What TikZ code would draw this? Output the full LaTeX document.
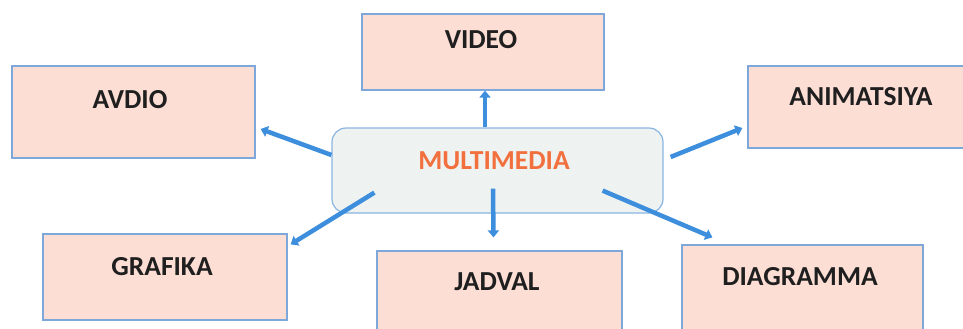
\documentclass[tikz,border=0pt]{standalone}
\usepackage{fontspec}
\setmainfont{Carlito}
\usepackage{tikz}
\usetikzlibrary{arrows.meta,calc}

\definecolor{boxfill}{HTML}{FDDED5}
\definecolor{boxline}{HTML}{7EA8DA}
\definecolor{hubfill}{HTML}{EEF2F1}
\definecolor{hubline}{HTML}{88B6E2}
\definecolor{arrowblue}{HTML}{3D8EDC}
\definecolor{hubtext}{HTML}{F2703D}

\begin{document}
\begin{tikzpicture}[x=1pt,y=1pt,yscale=-1,xscale=1,
  item/.style={draw=boxline,fill=boxfill,line width=1.2pt,inner sep=0pt},
  hub/.style={draw=hubline,fill=hubfill,line width=1.2pt,rounded corners=14pt,inner sep=0pt},
  lbl/.style={font=\fontsize{27.5}{32}\selectfont\bfseries,text=black!88,inner sep=0.75pt},
  link/.style={draw=arrowblue,line width=4.5pt,-{Triangle[length=7pt,width=11pt]}}]
%set diagram size to 963 x 329
\useasboundingbox (0,0) rectangle (963,329);

%Shape: Rectangle
\node [item,minimum width=242pt,minimum height=76pt] (video) at (483,52) {};
%Shape: Rectangle
\node [item,minimum width=243pt,minimum height=92pt] (avdio) at (133.5,112) {};
%Shape: Rectangle
\node [item,minimum width=224pt,minimum height=82pt] (anim) at (860,107) {};
%Shape: Rectangle
\node [item,minimum width=244pt,minimum height=86pt] (grafika) at (165,277) {};
%Shape: Rectangle
\node [item,minimum width=245pt,minimum height=90pt] (jadval) at (499.5,296) {};
%Shape: Rectangle
\node [item,minimum width=241pt,minimum height=96pt] (diagram) at (802.5,293) {};
%Shape: Rounded Rect
\node [hub,minimum width=331pt,minimum height=85pt] (media) at (497.5,170.5) {};

%Straight Lines with arrows
\draw [link] ($(media.north)+(-12.5,0)$) -- ($(video.south)+(2,0)$);
\draw [link] ($(media.west)+(0,-15.5)$) -- ($(avdio.east)+(5,17)$);
\draw [link] ($(media.east)+(7,-13.5)$) -- ($(anim.west)+(-5,21)$);
\draw [link] ($(media.south west)+(43,-21)$) -- ($(grafika.north east)+(3,11)$);
\draw [link] ($(media.south)+(-4.5,-25)$) -- ($(jadval.north)+(-6,-13)$);
\draw [link] ($(media.south east)+(-61,-23)$) -- ($(diagram.north west)+(31,-7)$);

% Text Node
\node [lbl] (videotxt) at (481,40) {VIDEO};
% Text Node
\node [lbl] (avdiotxt) at (130,100) {AVDIO};
% Text Node
\node [lbl] (animtxt) at (861,97) {ANIMATSIYA};
% Text Node
\node [lbl,text=hubtext] (mediatxt) at (494,161) {MULTIMEDIA};
% Text Node
\node [lbl] (grafikatxt) at (162,267) {GRAFIKA};
% Text Node
\node [lbl] (jadvaltxt) at (497,282) {JADVAL};
% Text Node
\node [lbl] (diagramtxt) at (800,277) {DIAGRAMMA};
\end{tikzpicture}
\end{document}
